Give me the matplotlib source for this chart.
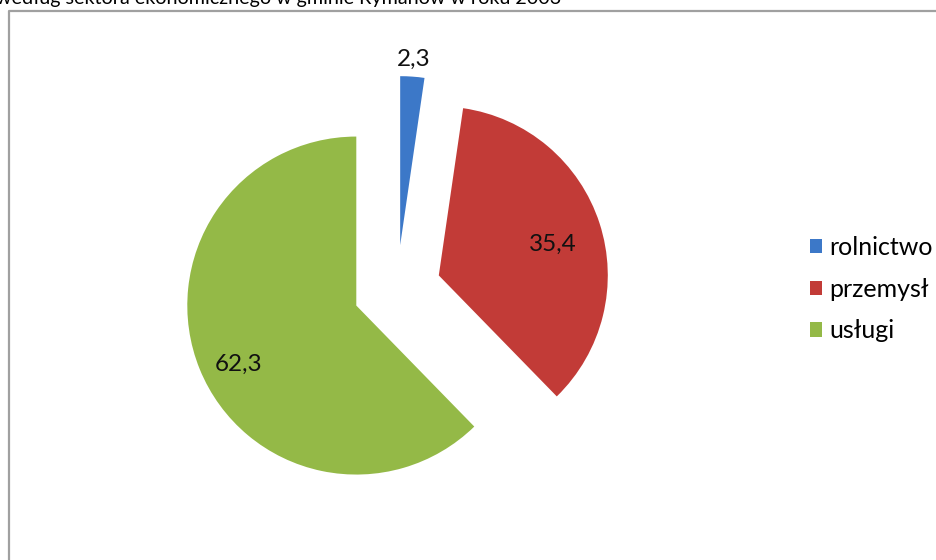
import matplotlib
matplotlib.use("Agg")
import matplotlib.pyplot as plt
import numpy as np
from matplotlib.patches import Patch

# Data
categories = ["rolnictwo", "przemysł", "usługi"]
values = [2.3, 35.4, 62.3]
value_labels = ["2,3", "35,4", "62,3"]
title_text = "według sektora ekonomicznego w gminie Rymanów w roku 2003"

colors = ["#3C78C8", "#C23B37", "#94B947"]

W, H = 936, 560
DPI = 100
plt.rcParams['font.family'] = ['Lato', 'DejaVu Sans']

fig = plt.figure(figsize=(W / DPI, H / DPI), dpi=DPI)
fig.patch.set_facecolor("white")

# overlay axes in pixel coordinates
ov = fig.add_axes([0, 0, 1, 1])
ov.set_xlim(0, W)
ov.set_ylim(H, 0)
ov.axis("off")
ov.plot([8.5, 8.5, W + 5], [H + 5, 10.5, 10.5], color="#a0a0a0", lw=1.6, solid_capstyle="butt")
ov.text(-4, 4, title_text, fontsize=14.2, va="baseline", ha="left", color="black")

# pie axes: unit radius = R pixels, centred at (cx, cy)
R = 169.0
cx, cy = 397.0, 289.0
ax = fig.add_axes([0, 0, 1, 1])
ax.axis("off")

wedges, _ = ax.pie(values, colors=colors, startangle=90, counterclock=False,
                   explode=[0.26, 0.26, 0.26], radius=1.0,
                   wedgeprops=dict(linewidth=0))
ax.set_xlim((0 - cx) / R, (W - cx) / R)
ax.set_ylim((cy - H) / R, (cy - 0) / R)
ax.set_aspect("auto")

label_dist = [1.10, 0.70, 0.78]
label_shift = [0.0, -3.0, 4.5]
for w, lab, d, sh in zip(wedges, value_labels, label_dist, label_shift):
    th = np.deg2rad((w.theta1 + w.theta2) / 2 + sh)
    x0, y0 = w.center
    ax.text(x0 + d * np.cos(th), y0 + d * np.sin(th), lab, ha="center", va="center",
            fontsize=17.5, color="#111111")

handles = [Patch(facecolor=c, edgecolor="none") for c in colors]
fig.legend(handles, categories, loc="center left", bbox_to_anchor=(797 / W, 1 - 289 / H),
           frameon=False, fontsize=18, handlelength=0.5, handleheight=0.5,
           handletextpad=0.3, labelspacing=0.75, borderpad=0)

fig.savefig("out.png", dpi=DPI, facecolor="white")
